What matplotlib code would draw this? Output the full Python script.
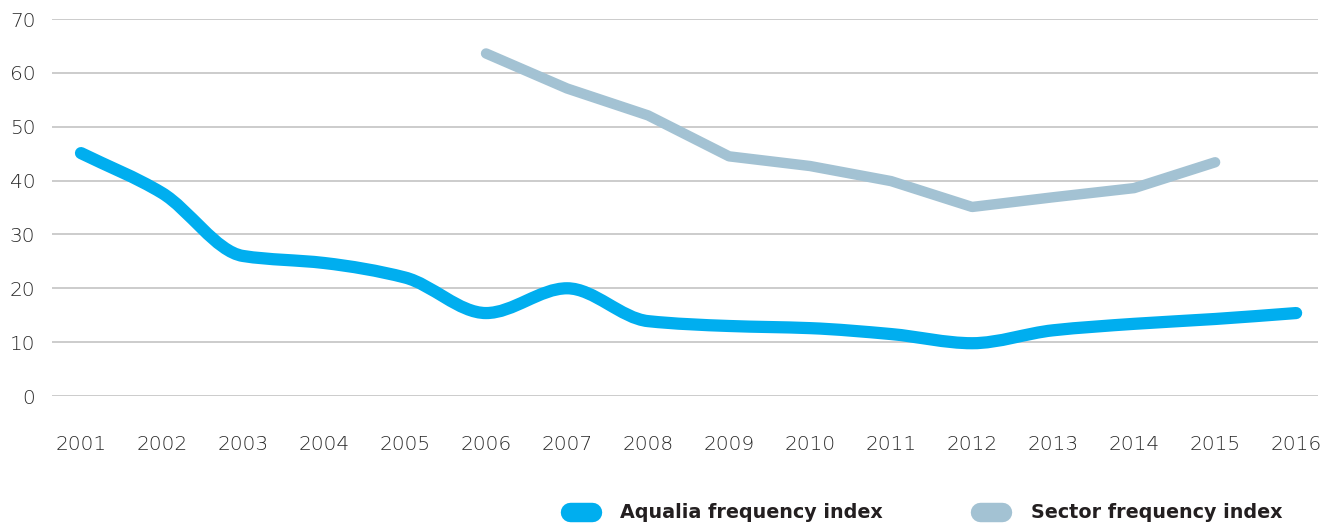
import matplotlib
matplotlib.use("Agg")
import matplotlib.pyplot as plt
import numpy as np
from matplotlib.path import Path
from matplotlib.patches import PathPatch
from matplotlib.lines import Line2D

years = list(range(2001, 2017))
aqualia = [45.1, 37.7, 26.0, 24.7, 22.0, 15.4, 20.0, 13.9, 13.0, 12.6, 11.5, 9.8, 12.2, 13.4, 14.3, 15.4]
sector_years = list(range(2006, 2016))
sector = [63.6, 57.1, 52.1, 44.5, 42.7, 39.9, 35.1, 36.9, 38.6, 43.4]
yticks = [0, 10, 20, 30, 40, 50, 60, 70]
legend_labels = ["Aqualia frequency index", "Sector frequency index"]

c_aq = "#00aeef"
c_se = "#a3c2d3"

W, H = 1332, 527
fig = plt.figure(figsize=(W / 100, H / 100), dpi=100)
ax = fig.add_axes([52 / W, 1 - 396 / H, (1318 - 52) / W, (396 - 19) / H])
ax.set_xlim(2000.642, 2016.27)
ax.set_ylim(0, 70)
for s in ax.spines.values():
    s.set_visible(False)
ax.set_yticks(yticks)
ax.set_xticks(years)
ax.grid(axis="y", color="#c8c8c8", linewidth=1.3)
ax.set_axisbelow(True)
ax.tick_params(length=0, labelsize=14.5, labelcolor="#2a2a2a")
ax.tick_params(axis="x", pad=28)
ax.tick_params(axis="y", pad=12)
for lab in ax.get_xticklabels() + ax.get_yticklabels():
    lab.set_fontfamily("DejaVu Sans")
    lab.set_fontweight("light")


def smooth_path(xs, ys):
    xs = np.asarray(xs, float)
    ys = np.asarray(ys, float)
    n = len(xs)
    m = np.zeros(n)
    for i in range(n):
        if i == 0:
            m[i] = (ys[1] - ys[0]) / (xs[1] - xs[0])
        elif i == n - 1:
            m[i] = (ys[-1] - ys[-2]) / (xs[-1] - xs[-2])
        else:
            d0 = (ys[i] - ys[i - 1]) / (xs[i] - xs[i - 1])
            d1 = (ys[i + 1] - ys[i]) / (xs[i + 1] - xs[i])
            if d0 * d1 <= 0:
                m[i] = 0
            else:
                m[i] = 2 / (1 / d0 + 1 / d1)
    verts = [(xs[0], ys[0])]
    codes = [Path.MOVETO]
    for i in range(n - 1):
        h = xs[i + 1] - xs[i]
        verts += [(xs[i] + h / 3, ys[i] + m[i] * h / 3),
                  (xs[i + 1] - h / 3, ys[i + 1] - m[i + 1] * h / 3),
                  (xs[i + 1], ys[i + 1])]
        codes += [Path.CURVE4] * 3
    return Path(verts, codes)


patch = PathPatch(smooth_path(years, aqualia), facecolor="none", edgecolor=c_aq,
                  linewidth=8.8, capstyle="round", joinstyle="round", clip_on=False, zorder=3)
ax.add_patch(patch)
ax.plot(sector_years, sector, color=c_se, linewidth=7.5, solid_capstyle="round",
        solid_joinstyle="round", clip_on=False, zorder=2)

# legend
for (x0, tx), col, lab in zip([(560, 620), (970, 1031)], [c_aq, c_se], legend_labels):
    fig.add_artist(Line2D([(x0 + 10) / W, (x0 + 32) / W], [1 - 512 / H, 1 - 512 / H],
                          transform=fig.transFigure, color=col, linewidth=14,
                          solid_capstyle="round"))
    fig.text(tx / W, 1 - 512 / H, lab, fontsize=13.8, fontweight="bold", color="#231f20",
             family="DejaVu Sans", va="center", ha="left")

fig.savefig("out.png", dpi=100)
